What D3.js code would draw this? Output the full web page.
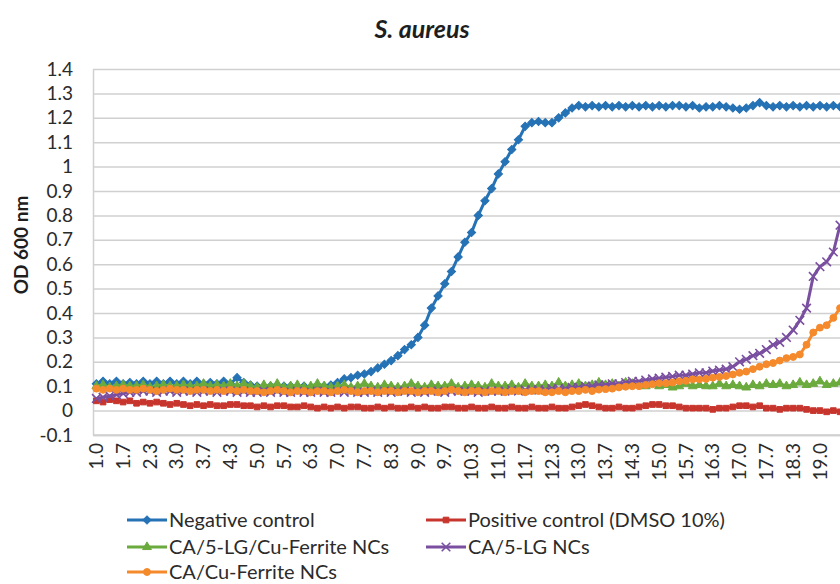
<!DOCTYPE html>
<html>
<head>
<meta charset="utf-8">
<script src="https://cdn.jsdelivr.net/npm/d3@7"></script>
<style>
  html, body { margin: 0; padding: 0; background: #fff; }
  svg { display: block; font-family: Lato, "Open Sans", sans-serif; }
</style>
</head>
<body>
<svg id="chart" width="840" height="584"></svg>
<script>
// ---- Data (time in hours, OD600) ----
const times = [
  1.0,1.2,1.3,1.5,1.7,1.8, 2.0,2.2,2.3,2.5,2.7,2.8, 3.0,3.2,3.3,3.5,3.7,3.8,
  4.0,4.2,4.3,4.5,4.7,4.8, 5.0,5.2,5.3,5.5,5.7,5.8, 6.0,6.2,6.3,6.5,6.7,6.8,
  7.0,7.2,7.3,7.5,7.7,7.8, 8.0,8.2,8.3,8.5,8.7,8.8, 9.0,9.2,9.3,9.5,9.7,9.8,
  10.0,10.2,10.3,10.5,10.7,10.8, 11.0,11.2,11.3,11.5,11.7,11.8, 12.0,12.2,12.3,12.5,12.7,12.8,
  13.0,13.2,13.3,13.5,13.7,13.8, 14.0,14.2,14.3,14.5,14.7,14.8, 15.0,15.2,15.3,15.5,15.7,15.8,
  16.0,16.2,16.3,16.5,16.7,16.8, 17.0,17.2,17.3,17.5,17.7,17.8, 18.0,18.2,18.3,18.5,18.7,18.8,
  19.0,19.2,19.3,19.5
];

const negativeControl = [
  0.11,0.12,0.11,0.12,0.11,0.115,0.11,0.12,0.11,0.12,
  0.11,0.12,0.11,0.12,0.11,0.12,0.11,0.115,0.11,0.12,
  0.11,0.135,0.115,0.105,0.1,0.095,0.1,0.095,0.1,0.1,
  0.095,0.1,0.095,0.1,0.1,0.105,0.115,0.13,0.135,0.145,
  0.15,0.16,0.175,0.19,0.205,0.225,0.25,0.27,0.3,0.35,
  0.42,0.47,0.52,0.57,0.63,0.69,0.73,0.8,0.86,0.91,
  0.97,1.02,1.07,1.11,1.165,1.18,1.185,1.18,1.18,1.2,
  1.22,1.24,1.25,1.245,1.25,1.245,1.25,1.245,1.25,1.245,
  1.25,1.245,1.25,1.245,1.25,1.245,1.25,1.25,1.245,1.25,
  1.24,1.245,1.245,1.25,1.245,1.24,1.235,1.24,1.25,1.262,
  1.25,1.245,1.25,1.245,1.25,1.245,1.25,1.245,1.25,1.245,
  1.25,1.245
];

const positiveControl = [
  0.04,0.035,0.045,0.04,0.035,0.04,0.03,0.035,0.03,0.035,
  0.03,0.025,0.03,0.025,0.02,0.025,0.02,0.025,0.02,0.02,
  0.025,0.025,0.02,0.02,0.015,0.02,0.015,0.02,0.02,0.015,
  0.015,0.02,0.015,0.01,0.015,0.01,0.015,0.01,0.015,0.015,
  0.01,0.01,0.015,0.01,0.015,0.01,0.01,0.015,0.01,0.015,
  0.01,0.01,0.015,0.015,0.01,0.01,0.015,0.01,0.01,0.015,
  0.01,0.01,0.015,0.01,0.01,0.015,0.01,0.01,0.015,0.01,
  0.01,0.015,0.02,0.025,0.02,0.015,0.01,0.01,0.015,0.01,
  0.01,0.015,0.02,0.025,0.025,0.02,0.02,0.015,0.01,0.01,
  0.01,0.01,0.005,0.01,0.01,0.015,0.02,0.02,0.015,0.02,
  0.01,0.01,0.005,0.01,0.01,0.01,0.005,0.0,0.0,-0.005,
  0.0,-0.005
];

const lgCuFerrite = [
  0.1,0.105,0.095,0.1,0.105,0.1,0.1,0.105,0.095,0.1,
  0.105,0.1,0.1,0.105,0.1,0.1,0.11,0.1,0.105,0.1,
  0.11,0.1,0.11,0.1,0.095,0.105,0.1,0.11,0.095,0.1,
  0.105,0.095,0.1,0.11,0.1,0.095,0.1,0.105,0.095,0.1,
  0.11,0.1,0.095,0.105,0.1,0.095,0.1,0.11,0.1,0.095,
  0.105,0.1,0.1,0.11,0.095,0.1,0.105,0.1,0.095,0.11,
  0.1,0.1,0.105,0.095,0.11,0.1,0.1,0.105,0.1,0.115,
  0.1,0.105,0.11,0.1,0.105,0.115,0.105,0.11,0.1,0.115,
  0.11,0.105,0.1,0.11,0.1,0.105,0.095,0.1,0.11,0.1,
  0.105,0.1,0.1,0.11,0.1,0.105,0.1,0.095,0.105,0.1,
  0.11,0.105,0.11,0.1,0.105,0.115,0.105,0.11,0.12,0.105,
  0.11,0.115
];

const lgNCs = [
  0.05,0.055,0.06,0.065,0.07,0.075,0.075,0.08,0.08,0.075,
  0.08,0.08,0.075,0.08,0.08,0.075,0.08,0.08,0.075,0.08,
  0.08,0.075,0.08,0.075,0.075,0.08,0.075,0.08,0.075,0.075,
  0.08,0.075,0.075,0.08,0.075,0.075,0.08,0.075,0.08,0.075,
  0.075,0.08,0.075,0.08,0.075,0.08,0.08,0.075,0.08,0.075,
  0.08,0.08,0.075,0.08,0.08,0.08,0.08,0.075,0.08,0.08,
  0.08,0.08,0.085,0.08,0.085,0.085,0.085,0.085,0.09,0.09,
  0.09,0.095,0.095,0.1,0.1,0.105,0.105,0.11,0.11,0.115,
  0.12,0.12,0.125,0.13,0.133,0.137,0.14,0.145,0.145,0.15,
  0.155,0.155,0.162,0.166,0.17,0.18,0.2,0.21,0.225,0.235,
  0.25,0.27,0.28,0.3,0.33,0.37,0.42,0.55,0.59,0.61,
  0.65,0.76
];

const cuFerrite = [
  0.09,0.085,0.09,0.085,0.09,0.085,0.085,0.09,0.085,0.08,
  0.085,0.09,0.085,0.085,0.08,0.085,0.085,0.08,0.085,0.08,
  0.085,0.08,0.085,0.08,0.08,0.075,0.08,0.085,0.08,0.075,
  0.08,0.08,0.075,0.08,0.08,0.075,0.08,0.085,0.08,0.075,
  0.08,0.08,0.075,0.08,0.08,0.075,0.08,0.08,0.075,0.08,
  0.08,0.075,0.08,0.085,0.08,0.075,0.08,0.08,0.075,0.08,
  0.08,0.075,0.08,0.08,0.075,0.08,0.08,0.075,0.075,0.08,
  0.075,0.08,0.08,0.085,0.08,0.086,0.088,0.09,0.095,0.098,
  0.1,0.1,0.105,0.108,0.112,0.112,0.115,0.12,0.122,0.128,
  0.128,0.13,0.135,0.138,0.142,0.148,0.155,0.16,0.17,0.18,
  0.19,0.195,0.205,0.215,0.22,0.23,0.27,0.32,0.34,0.35,
  0.38,0.42
];

const seriesNames = [
  "Negative control",
  "Positive control (DMSO 10%)",
  "CA/5-LG/Cu-Ferrite NCs",
  "CA/5-LG NCs",
  "CA/Cu-Ferrite NCs"
];
const seriesValues = [negativeControl, positiveControl, lgCuFerrite, lgNCs, cuFerrite];
const seriesColors = ["#2572B5", "#C7352D", "#6BAA3D", "#7A4FA0", "#F58A2C"];

const yTickValues = [-0.1,0,0.1,0.2,0.3,0.4,0.5,0.6,0.7,0.8,0.9,1,1.1,1.2,1.3,1.4];
const yTickLabels = ["-0.1","0","0.1","0.2","0.3","0.4","0.5","0.6","0.7","0.8","0.9","1","1.1","1.2","1.3","1.4"];

// ---- Layout ----
const svg = d3.select("#chart");
const plotLeft = 93, plotTop = 69, plotBottom = 435;
const step = 6.7;
const catLabels = times.map(t => t.toFixed(1));
const plotRight = plotLeft + (times.length + 1) * step;

const x = d3.scaleBand().domain(catLabels).range([plotLeft, plotLeft + times.length * step]).paddingInner(0).paddingOuter(0);
const y = d3.scaleLinear().domain([-0.1, 1.4]).range([plotBottom, plotTop]);
const cx = (i) => x(catLabels[i]) + x.bandwidth() / 2;

const gridColor = "#d0d0d0";
const textColor = "#2b2b2b";

// Y axis with gridlines
const yAxis = d3.axisLeft(y)
  .tickValues(yTickValues)
  .tickFormat((d, i) => yTickLabels[i])
  .tickSizeInner(-(plotRight - plotLeft))
  .tickSizeOuter(0)
  .tickPadding(20);
const gy = svg.append("g").attr("transform", `translate(${plotLeft},0)`).call(yAxis);
gy.selectAll(".tick line").attr("stroke", gridColor).attr("stroke-width", 1.5);
gy.select(".domain").attr("stroke", gridColor).attr("stroke-width", 1.5);
gy.selectAll(".tick text")
  .attr("fill", textColor)
  .style("font-size", "19px")
  .style("font-family", "Lato, sans-serif");

// X axis
const xLabelVals = catLabels.filter((_, i) => i % 4 === 0);
const xAxis = d3.axisBottom(x).tickValues(xLabelVals).tickSize(0).tickPadding(0);
const gx = svg.append("g").attr("transform", `translate(0,${plotBottom})`).call(xAxis);
gx.select(".domain").attr("stroke", gridColor).attr("stroke-width", 1.5);
svg.append("line")
  .attr("x1", plotLeft).attr("x2", plotRight)
  .attr("y1", plotBottom).attr("y2", plotBottom)
  .attr("stroke", gridColor).attr("stroke-width", 1.5);
gx.selectAll(".tick text")
  .attr("transform", "rotate(-90)")
  .attr("text-anchor", "end")
  .attr("x", -8)
  .attr("y", 0)
  .attr("dy", "0.35em")
  .attr("fill", textColor)
  .style("font-size", "19px")
  .style("font-family", "Lato, sans-serif");

// Series
const symbolFor = [
  { type: d3.symbolSquare, size: 34, rotate: 45, stroke: false },
  { type: d3.symbolSquare, size: 32, rotate: 0, stroke: false },
  { type: d3.symbolTriangle, size: 34, rotate: 0, stroke: false },
  { type: d3.symbolX, size: 50, rotate: 0, stroke: true },
  { type: d3.symbolCircle, size: 38, rotate: 0, stroke: false }
];

const line = d3.line().x((d, i) => cx(i)).y(d => y(d));

seriesValues.forEach((vals, s) => {
  const g = svg.append("g");
  g.append("path")
    .datum(vals)
    .attr("d", line)
    .attr("fill", "none")
    .attr("stroke", seriesColors[s])
    .attr("stroke-width", 3)
    .attr("stroke-linejoin", "round");
  const sym = symbolFor[s];
  g.selectAll("path.m")
    .data(vals)
    .join("path")
    .attr("class", "m")
    .attr("d", d3.symbol().type(sym.type).size(sym.size))
    .attr("transform", (d, i) => `translate(${cx(i)},${y(d)}) rotate(${sym.rotate})`)
    .attr("fill", sym.stroke ? "none" : seriesColors[s])
    .attr("stroke", seriesColors[s])
    .attr("stroke-width", sym.stroke ? 1.6 : 1);
});

// Title
svg.append("text")
  .attr("x", 422).attr("y", 38)
  .attr("text-anchor", "middle")
  .style("font-size", "25px")
  .style("font-weight", "bold")
  .style("font-style", "italic")
  .attr("fill", "#1e1e1e")
  .text("S. aureus");

// Y title
svg.append("text")
  .attr("transform", "translate(21,245) rotate(-90)")
  .attr("text-anchor", "middle")
  .attr("dy", "0.35em")
  .style("font-size", "19px")
  .style("font-weight", "bold")
  .attr("fill", "#1e1e1e")
  .text("OD 600 nm");

// Legend
const legendPos = [
  { x: 127, y: 520 }, { x: 426, y: 520 },
  { x: 127, y: 547 }, { x: 426, y: 547 },
  { x: 127, y: 572 }
];
seriesNames.forEach((name, s) => {
  const p = legendPos[s];
  const g = svg.append("g").attr("transform", `translate(${p.x},${p.y})`);
  g.append("line").attr("x1", 0).attr("x2", 40).attr("y1", 0).attr("y2", 0)
    .attr("stroke", seriesColors[s]).attr("stroke-width", 3);
  const sym = symbolFor[s];
  g.append("path")
    .attr("d", d3.symbol().type(sym.type).size(sym.size)())
    .attr("transform", `translate(20,0) rotate(${sym.rotate})`)
    .attr("fill", sym.stroke ? "none" : seriesColors[s])
    .attr("stroke", seriesColors[s])
    .attr("stroke-width", sym.stroke ? 1.6 : 1);
  g.append("text")
    .attr("x", 42).attr("y", 0).attr("dy", "0.35em")
    .style("font-size", "20px")
    .attr("fill", textColor)
    .text(name);
});
</script>
</body>
</html>
